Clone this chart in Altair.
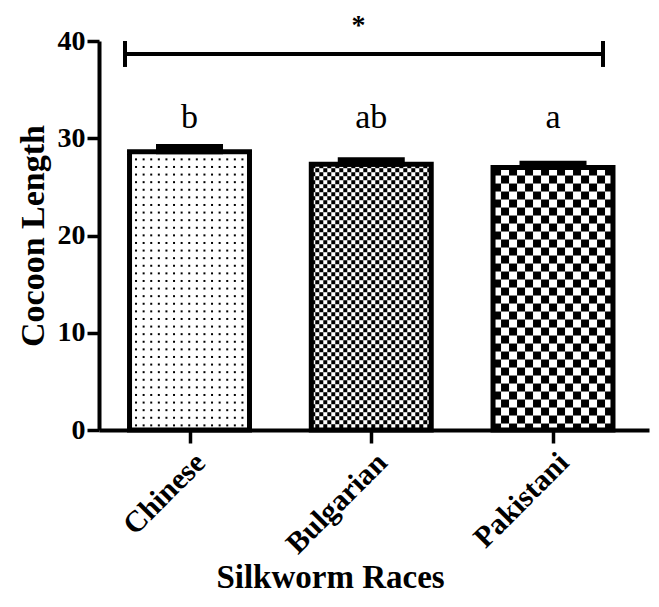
import math
import altair as alt
import pandas as pd

# ---------------- data ----------------
races = ["Chinese", "Bulgarian", "Pakistani"]
means = [28.6, 27.33, 26.99]
upper = [29.15, 27.78, 27.43]
letters = ["b", "ab", "a"]
patterns = ["dots", "fine", "coarse"]
y_ticks = [0, 10, 20, 30, 40]
sig_label = "*"

# ---------------- layout / style constants ----------------
FONT = "Liberation Serif"
W, H = 550, 389
PX_X = 181.75           # pixels per category step
PX_Y = H / 40.0         # pixels per y unit
X_MIN = -0.498
X_MAX = X_MIN + W / PX_X
BAR_HALF = 0.33
CAP_HALF = 0.1706
LETTER_Y = 31.05
BRACKET = dict(x0=-0.355, x1=2.275, y=38.66, ylo=37.33, yhi=40.0)
STAR_POS = dict(x=0.93, y=40.77)

idx = list(range(len(races)))
bars = pd.DataFrame({
    "x": [i - BAR_HALF for i in idx],
    "x2": [i + BAR_HALF for i in idx],
    "y": [0.0] * len(idx),
    "y2": means,
})
caps = pd.DataFrame({
    "x": [i - CAP_HALF for i in idx],
    "x2": [i + CAP_HALF for i in idx],
    "y": means,
    "y2": upper,
})
lett = pd.DataFrame({"x": idx, "y": [LETTER_Y] * len(idx), "t": letters})


# pattern cells (decoration) derived from the bar values
def pattern_cells(i, mean, kind):
    wpx = 2 * BAR_HALF * PX_X
    hpx = mean * PX_Y
    cells = []
    if kind == "dots":
        sp = 7.6
        cy = 7.5
        while cy < hpx - 3:
            cx = 6.5
            while cx < wpx - 3:
                cells.append((cx - 1, cx + 1, cy - 1, cy + 1))
                cx += sp
            cy += sp
    else:
        c = 4.0 if kind == "fine" else 8.0
        nr = math.ceil(hpx / c)
        nc = math.ceil(wpx / c)
        for r in range(nr):
            for k in range(nc):
                if (r + k) % 2 == 0:
                    cells.append((k * c, min((k + 1) * c, wpx), r * c, min((r + 1) * c, hpx)))
    rows = []
    for (a, b, t, u) in cells:
        rows.append({
            "x": i - BAR_HALF + a / PX_X,
            "x2": i - BAR_HALF + b / PX_X,
            "y": max(0.0, mean - u / PX_Y),
            "y2": mean - t / PX_Y,
        })
    return rows


pat_rows = []
for i, m, k in zip(idx, means, patterns):
    pat_rows += pattern_cells(i, m, k)
pat = pd.DataFrame(pat_rows)

label_expr = "[" + ",".join("'" + r + "'" for r in races) + "][datum.value]"

XAXIS = alt.Axis(
    values=idx, labelExpr=label_expr, labelAngle=-45, labelAlign="right",
    labelBaseline="top", labelFont=FONT, labelFontSize=30, labelFontWeight="bold",
    labelColor="black", labelPadding=4, labelOverlap=False, labelFlush=False,
    tickSize=13, tickWidth=3.5, tickColor="black", domainWidth=4, domainColor="black",
    grid=False, title="Silkworm Races", titleFont=FONT, titleFontSize=33,
    titleFontWeight="bold", titleColor="black", titleX=231, titleY=157,
    titleBaseline="alphabetic",
)
YAXIS = alt.Axis(
    values=y_ticks, labelFont=FONT, labelFontSize=28, labelFontWeight="bold",
    labelColor="black", labelPadding=2, tickSize=12, tickWidth=3.5, tickColor="black",
    domainWidth=4, domainColor="black", grid=False, title="Cocoon Length",
    titleFont=FONT, titleFontSize=34, titleFontWeight="bold", titleColor="black",
    titleX=-66, titleBaseline="middle",
)
XS = alt.Scale(domain=[X_MIN, X_MAX], nice=False, zero=False)
YS = alt.Scale(domain=[0, 40], nice=False)


def xe(f="x"):
    return alt.X(f, type="quantitative", scale=XS, axis=XAXIS)


def ye(f="y"):
    return alt.Y(f, type="quantitative", scale=YS, axis=YAXIS)


base_fill = alt.Chart(bars).mark_rect(fill="white").encode(
    x=xe(), x2="x2", y=ye(), y2="y2")
pattern_layer = alt.Chart(pat).mark_rect(fill="black", strokeWidth=0).encode(
    x=xe(), x2="x2", y=ye(), y2="y2")
border = alt.Chart(bars).mark_rect(fill="white", fillOpacity=0, stroke="black",
                                  strokeWidth=5).encode(
    x=xe(), x2="x2", y=ye(), y2="y2")
cap_layer = alt.Chart(caps).mark_rect(fill="black", stroke="black", strokeWidth=5).encode(
    x=xe(), x2="x2", y=ye(), y2="y2")
letter_layer = alt.Chart(lett).mark_text(
    font=FONT, fontSize=34, baseline="alphabetic", align="center", color="black").encode(
    x=xe(), y=ye(), text="t:N")

br = pd.DataFrame([
    {"x": BRACKET["x0"], "x2": BRACKET["x1"], "y": BRACKET["y"], "y2": BRACKET["y"]},
    {"x": BRACKET["x0"], "x2": BRACKET["x0"], "y": BRACKET["ylo"], "y2": BRACKET["yhi"]},
    {"x": BRACKET["x1"], "x2": BRACKET["x1"], "y": BRACKET["ylo"], "y2": BRACKET["yhi"]},
])
bracket_layer = alt.Chart(br).mark_rule(color="black", strokeWidth=4).encode(
    x=xe(), x2="x2", y=ye(), y2="y2")
star = pd.DataFrame([{"x": STAR_POS["x"], "y": STAR_POS["y"], "t": sig_label}])
star_layer = alt.Chart(star).mark_text(
    font=FONT, fontSize=28, fontWeight="bold", baseline="alphabetic", align="center",
    color="black").encode(x=xe(), y=ye(), text="t:N")

chart = alt.layer(
    base_fill, pattern_layer, border, cap_layer, letter_layer, bracket_layer, star_layer
).properties(
    width=W, height=H,
    autosize=alt.AutoSizeParams(type="none"),
    padding={"left": 91, "top": 33, "right": 2, "bottom": 164},
    background="white",
).configure_view(stroke=None)

chart.save("out.html", embed_options={"renderer": "svg", "actions": False})
